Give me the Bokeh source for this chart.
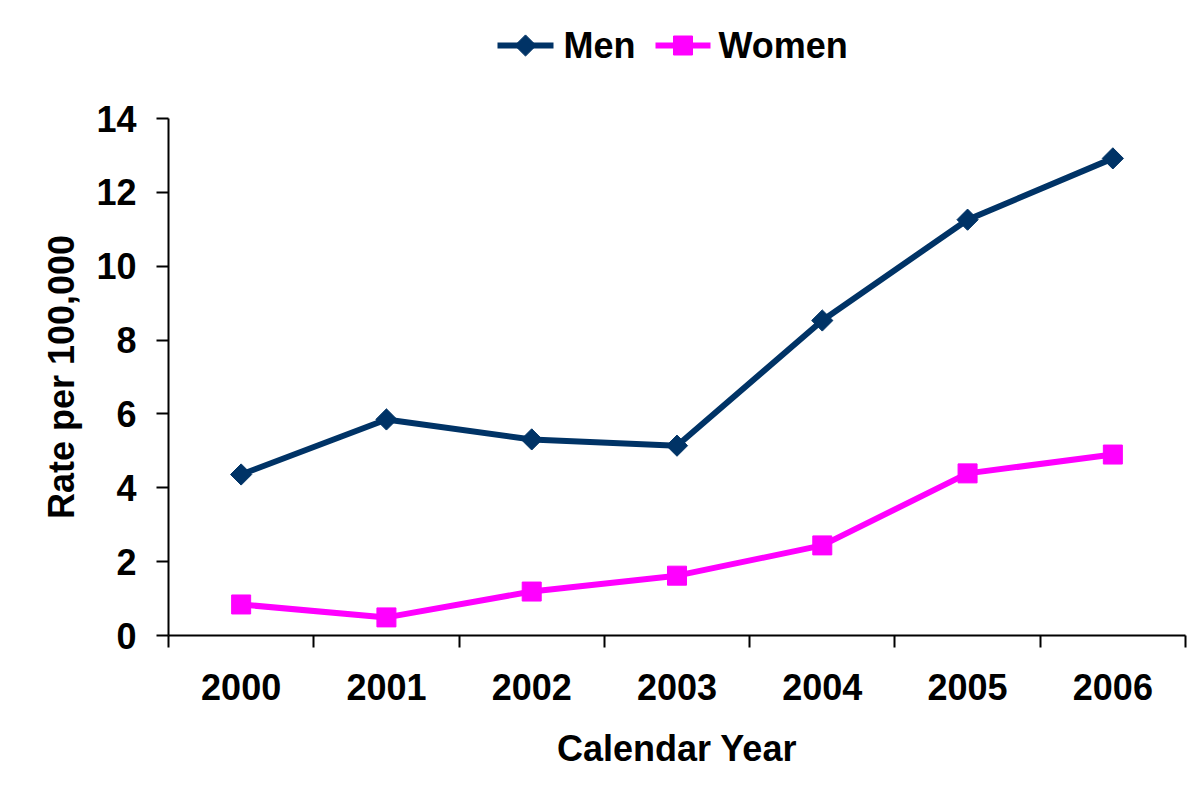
import math
from bokeh.plotting import figure
from bokeh.layouts import column
from bokeh.models import Range1d, FixedTicker
from bokeh.core.properties import value
from bokeh.embed import file_html
from bokeh.resources import INLINE

years = ["2000", "2001", "2002", "2003", "2004", "2005", "2006"]
men = [4.36, 5.85, 5.31, 5.14, 8.53, 11.26, 12.92]
women = [0.84, 0.49, 1.19, 1.62, 2.44, 4.39, 4.90]
y_ticks = [0, 2, 4, 6, 8, 10, 12, 14]
series_names = ["Men", "Women"]

MEN_C = "#003366"
WOMEN_C = "#FF00FF"
FONT = "Liberation Sans"
W = 1192
TOP_H = 85
LEFT_B = 168
RIGHT_B = 7

x = [i + 0.5 for i in range(len(years))]

# ---------- legend strip (separate small figure, frame aligned with main frame) ----------
leg = figure(width=W, height=TOP_H, x_range=Range1d(LEFT_B, W - RIGHT_B), y_range=Range1d(0, TOP_H),
             x_axis_type=None, y_axis_type=None,
             output_backend="svg", toolbar_location=None,
             min_border_left=0, min_border_right=0, min_border_top=0, min_border_bottom=0)
leg.grid.visible = False
leg.outline_line_color = None
ly = TOP_H - 45
leg.line([497, 553], [ly, ly], line_color=MEN_C, line_width=6)
leg.scatter([525], [ly], marker="square", angle=math.pi / 4, size=15,
            fill_color=MEN_C, line_color=MEN_C)
leg.line([655, 710], [ly, ly], line_color=WOMEN_C, line_width=6)
leg.scatter([682.5], [ly], marker="square", size=19, fill_color=WOMEN_C, line_color=WOMEN_C)
leg.text([563, 718], [ly, ly], text=series_names, text_font=value(FONT),
         text_font_style="bold", text_font_size="36px", text_color="black",
         text_baseline="middle", text_align="left")

# ---------- main chart ----------
p = figure(width=W, height=792 - TOP_H, x_range=Range1d(0, len(years)), y_range=Range1d(0, 14),
           output_backend="svg", toolbar_location=None,
           min_border_left=LEFT_B, min_border_right=RIGHT_B, min_border_top=118 - TOP_H,
           min_border_bottom=157)
p.outline_line_color = None
p.xgrid.grid_line_color = None
p.ygrid.grid_line_color = None

xa = p.xaxis[0]
xa.ticker = FixedTicker(ticks=x, minor_ticks=list(range(len(years) + 1)))
xa.major_label_overrides = {v: y for v, y in zip(x, years)}
xa.major_tick_line_color = None
xa.major_tick_out = 12
xa.minor_tick_out = 12
xa.minor_tick_in = 0
xa.minor_tick_line_color = "black"
xa.minor_tick_line_width = 2
xa.axis_line_width = 2
xa.major_label_text_font = FONT
xa.major_label_text_font_style = "bold"
xa.major_label_text_font_size = "36px"
xa.major_label_text_color = "black"
xa.major_label_standoff = 26
xa.axis_label = "Calendar Year"
xa.axis_label_text_font = FONT
xa.axis_label_text_font_style = "bold"
xa.axis_label_text_font_size = "36px"
xa.axis_label_text_color = "black"
xa.axis_label_standoff = 25

ya = p.yaxis[0]
ya.ticker = FixedTicker(ticks=y_ticks, minor_ticks=[])
ya.major_tick_out = 12
ya.major_tick_in = 0
ya.major_tick_line_width = 2
ya.axis_line_width = 2
ya.major_label_text_font = FONT
ya.major_label_text_font_style = "bold"
ya.major_label_text_font_size = "36px"
ya.major_label_text_color = "black"
ya.major_label_standoff = 20
ya.axis_label = "Rate per 100,000"
ya.axis_label_text_font = FONT
ya.axis_label_text_font_style = "bold"
ya.axis_label_text_font_size = "36px"
ya.axis_label_text_color = "black"
ya.axis_label_standoff = 11

p.line(x, men, line_color=MEN_C, line_width=6)
p.scatter(x, men, marker="square", angle=math.pi / 4, size=15, fill_color=MEN_C, line_color=MEN_C)
p.line(x, women, line_color=WOMEN_C, line_width=6)
p.scatter(x, women, marker="square", size=19, fill_color=WOMEN_C, line_color=WOMEN_C)

layout = column(leg, p, spacing=0)
open("out.html", "w").write(file_html(layout, INLINE))
